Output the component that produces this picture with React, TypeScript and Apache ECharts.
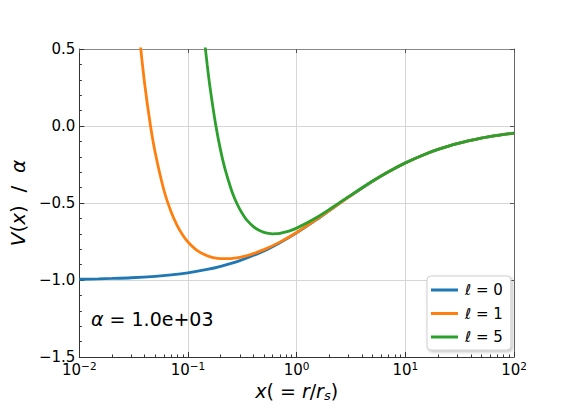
import React, { useEffect, useRef } from "react";
import * as echarts from "echarts";

// x = r / r_s  sample positions and V(x)/alpha values
const xL0 = [0.01, 0.015, 0.02, 0.03, 0.05, 0.07, 0.1, 0.15, 0.2, 0.3, 0.5, 0.7, 1, 1.5, 2, 3, 5, 7, 10, 15, 20, 30, 50, 70, 100];
const vL0 = [-0.995, -0.9926, -0.9901, -0.9853, -0.9758, -0.9666, -0.9531, -0.9318, -0.9116, -0.8746, -0.8109, -0.758, -0.6931, -0.6109, -0.5493, -0.4621, -0.3584, -0.2971, -0.2398, -0.1848, -0.1522, -0.1145, -0.0786, -0.0609, -0.0462];

const xL1 = [0.036, 0.04, 0.045, 0.05, 0.06, 0.07, 0.08, 0.09, 0.1, 0.12, 0.15, 0.17, 0.2, 0.25, 0.3, 0.35, 0.4, 0.5, 0.7, 1, 1.5, 2, 3, 5, 7, 10, 15, 20, 30, 50, 70, 100];
const vL1 = [0.561, 0.2695, 0.0095, -0.1758, -0.4156, -0.5584, -0.6495, -0.7106, -0.7531, -0.8055, -0.8429, -0.8544, -0.8616, -0.8606, -0.8523, -0.8411, -0.8287, -0.8029, -0.754, -0.6912, -0.61, -0.5488, -0.4619, -0.3583, -0.297, -0.2398, -0.1848, -0.1522, -0.1145, -0.0786, -0.0609, -0.0462];

const xL5 = [0.14, 0.15, 0.16, 0.18, 0.2, 0.22, 0.25, 0.27, 0.3, 0.33, 0.35, 0.4, 0.45, 0.5, 0.55, 0.6, 0.65, 0.7, 0.85, 1, 1.5, 2, 3, 5, 7, 10, 15, 20, 30, 50, 70, 100];
const vL5 = [0.5947, 0.4016, 0.2443, 0.0064, -0.1616, -0.284, -0.4126, -0.4737, -0.5412, -0.5887, -0.6125, -0.6537, -0.6776, -0.6909, -0.6977, -0.7, -0.6994, -0.6968, -0.6822, -0.6632, -0.5975, -0.5418, -0.4588, -0.3572, -0.2965, -0.2395, -0.1847, -0.1522, -0.1144, -0.0786, -0.0609, -0.0462];

const seriesNames = ["ℓ = 0", "ℓ = 1", "ℓ = 5"];
const seriesColors = ["#1f77b4", "#ff7f0e", "#2ca02c"];
const minorTickValues = [
  0.02, 0.03, 0.04, 0.05, 0.06, 0.07, 0.08, 0.09,
  0.2, 0.3, 0.4, 0.5, 0.6, 0.7, 0.8, 0.9,
  2, 3, 4, 5, 6, 7, 8, 9,
  20, 30, 40, 50, 60, 70, 80, 90,
];
const annotation = "{i|α} = 1.0e+03";

const FONT = "DejaVu Sans";

function zip(xs: number[], ys: number[]) {
  return xs.map((x, i) => [x, ys[i]]);
}

export default function App() {
  const ref = useRef<HTMLDivElement>(null);
  useEffect(() => {
    if (!ref.current) return;
    const chart = echarts.init(ref.current, undefined, { renderer: "svg" });
    const logCommon = { type: "log", logBase: 10, min: 0.01, max: 100, gridIndex: 0 };
    const datasets = [zip(xL0, vL0), zip(xL1, vL1), zip(xL5, vL5)];
    chart.setOption({
      animation: false,
      backgroundColor: "#ffffff",
      textStyle: { fontFamily: FONT },
      grid: { left: 72, right: 58, top: 49, bottom: 52, containLabel: false },
      xAxis: [
        {
          ...logCommon,
          position: "bottom",
          name: "{i|x}( = {i|r}/{i|r}{sub|s})",
          nameLocation: "middle",
          nameGap: 22,
          nameTextStyle: {
            fontFamily: FONT,
            fontSize: 19,
            color: "#000",
            rich: {
              i: { fontFamily: FONT, fontSize: 19, fontStyle: "italic", color: "#000" },
              sub: { fontFamily: FONT, fontSize: 13, fontStyle: "italic", color: "#000", padding: [9, 0, 0, 0] },
            },
          },
          axisLine: { show: true, onZero: false, lineStyle: { color: "#333", width: 1 } },
          axisTick: { show: true, inside: true, length: 5, lineStyle: { color: "#333" } },
          splitLine: { show: true, lineStyle: { color: "#d6d6d6", width: 1 } },
          axisLabel: {
            margin: 3,
            formatter: (v: number) => {
              const e = Math.round(Math.log10(v));
              return "{b|10}{s|" + (e < 0 ? "−" + Math.abs(e) : String(e)) + "}";
            },
            rich: {
              b: { fontFamily: FONT, fontSize: 15, color: "#000" },
              s: { fontFamily: FONT, fontSize: 10.5, color: "#000", padding: [0, 0, 8, 0] },
            },
          },
        },
        {
          ...logCommon,
          position: "bottom",
          axisLine: { show: false, onZero: false },
          axisLabel: { show: false },
          splitLine: { show: false },
          axisTick: { show: true, inside: true, length: 2.5, customValues: minorTickValues, lineStyle: { color: "#333" } },
        },
        {
          ...logCommon,
          position: "top",
          axisLine: { show: true, onZero: false, lineStyle: { color: "#888", width: 1 } },
          axisLabel: { show: false },
          splitLine: { show: false },
          axisTick: { show: true, inside: true, length: 4, lineStyle: { color: "#555" } },
        },
      ],
      yAxis: [
        {
          type: "value",
          min: -1.5,
          max: 0.5,
          interval: 0.5,
          position: "left",
          name: "{i|V}({i|x})  /  {i|α}",
          nameLocation: "middle",
          nameRotate: 90,
          nameGap: 43,
          nameTextStyle: {
            fontFamily: FONT,
            fontSize: 20,
            color: "#000",
            rich: {
              i: { fontFamily: FONT, fontSize: 20, fontStyle: "italic", color: "#000" },
            },
          },
          axisLine: { show: true, onZero: false, lineStyle: { color: "#333", width: 1 } },
          axisTick: { show: true, inside: true, length: 5, lineStyle: { color: "#333" } },
          minorTick: { show: true, splitNumber: 5, length: 2.5, lineStyle: { color: "#333" } },
          splitLine: { show: true, lineStyle: { color: "#d6d6d6", width: 1 } },
          axisLabel: {
            margin: 4,
            fontFamily: FONT,
            fontSize: 15,
            color: "#000",
            formatter: (v: number) => v.toFixed(1).replace("-", "−"),
          },
        },
        {
          type: "value",
          min: -1.5,
          max: 0.5,
          interval: 0.5,
          position: "right",
          axisLine: { show: true, onZero: false, lineStyle: { color: "#666", width: 1 } },
          axisTick: { show: true, inside: true, length: 4, lineStyle: { color: "#555" } },
          axisLabel: { show: false },
          splitLine: { show: false },
        },
      ],
      legend: {
        orient: "vertical",
        left: 427,
        top: 276,
        padding: [6, 8, 5, 4],
        itemGap: 7.5,
        itemWidth: 27,
        itemHeight: 3,
        icon: "rect",
        backgroundColor: "#ffffff",
        borderColor: "#d0d0d0",
        borderWidth: 1,
        borderRadius: 4,
        shadowColor: "rgba(0,0,0,0.25)",
        shadowBlur: 3,
        shadowOffsetX: 1.5,
        shadowOffsetY: 1.5,
        textStyle: { fontFamily: FONT, fontSize: 15, color: "#000", lineHeight: 16, padding: [0, 0, 0, 2] },
        data: seriesNames,
      },
      graphic: [
        {
          type: "text",
          left: 91,
          top: 309,
          z: 10,
          style: {
            text: annotation,
            font: "19px 'DejaVu Sans'",
            fill: "#000",
            rich: {
              i: { fontFamily: FONT, fontSize: 19, fontStyle: "italic", fill: "#000" } as any,
            },
          },
        },
      ],
      series: datasets.map((d, i) => ({
        type: "line",
        name: seriesNames[i],
        xAxisIndex: 0,
        yAxisIndex: 0,
        data: d,
        showSymbol: false,
        smooth: 0.3,
        clip: true,
        z: 3 + i,
        color: seriesColors[i],
        lineStyle: { color: seriesColors[i], width: 2.8 },
      })),
    });
    return () => chart.dispose();
  }, []);
  return (
    <div
      ref={ref}
      style={{ position: "fixed", left: 0, top: 0, width: 572, height: 409 }}
    />
  );
}
